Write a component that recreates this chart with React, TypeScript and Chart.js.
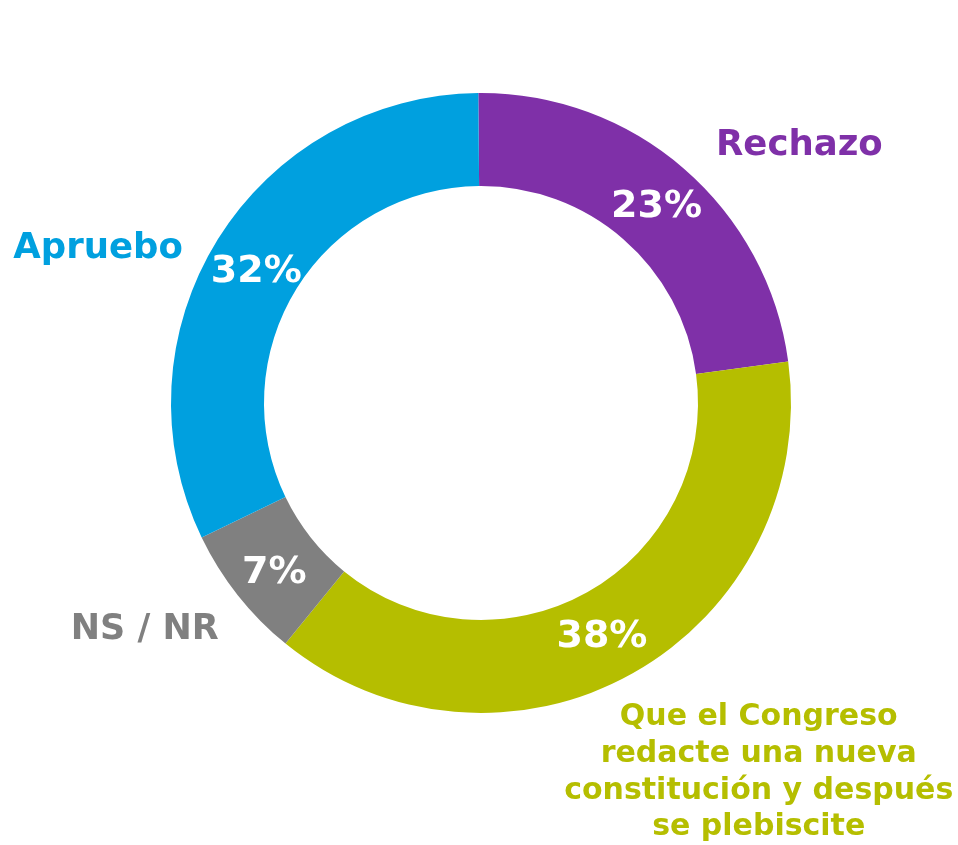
import React, { useEffect, useRef } from "react";
import { Chart, registerables } from "chart.js";

Chart.register(...registerables);

const categories = [
  "Rechazo",
  "Que el Congreso redacte una nueva constitución y después se plebiscite",
  "NS / NR",
  "Apruebo",
];
const values = [23, 38, 7, 32];
const colors = ["#7F30A8", "#B5BE00", "#808080", "#00A0DF"];
const labelLines = [
  ["Rechazo"],
  ["Que el Congreso", "redacte una nueva", "constitución y después", "se plebiscite"],
  ["NS / NR"],
  ["Apruebo"],
];

const FONT = "'DejaVu Sans', sans-serif";

const labelPlugin = {
  id: "labelPlugin",
  afterDatasetsDraw(chart: any) {
    const ctx = chart.ctx;
    const meta = chart.getDatasetMeta(0);
    const total = values.reduce((a, b) => a + b, 0);
    const outside = [
      { dx: 32, dy: -14, align: "left", size: 35.5 },
      { dx: 126, dy: 52, align: "center", size: 30 },
      { dx: -19, dy: 44, align: "right", size: 35 },
      { dx: -35, dy: 19, align: "right", size: 35.5 },
    ];
    const pctDx = [3, -8, 0, -1];
    const pctDy = [13, 14, 17, 18];
    ctx.save();
    meta.data.forEach((arc: any, i: number) => {
      const p = arc.getProps(["x", "y", "startAngle", "endAngle", "innerRadius", "outerRadius"], true);
      const mid = (p.startAngle + p.endAngle) / 2;
      const rMid = (p.innerRadius + p.outerRadius) / 2;
      const cx = p.x + Math.cos(mid) * rMid;
      const cy = p.y + Math.sin(mid) * rMid;
      ctx.fillStyle = "#ffffff";
      ctx.font = `bold 38px ${FONT}`;
      ctx.textAlign = "center";
      ctx.textBaseline = "alphabetic";
      ctx.fillText(Math.round((values[i] / total) * 100) + "%", cx + pctDx[i], cy + pctDy[i]);

      const ox = p.x + Math.cos(mid) * p.outerRadius;
      const oy = p.y + Math.sin(mid) * p.outerRadius;
      const o = outside[i];
      ctx.fillStyle = colors[i];
      ctx.font = `bold ${o.size}px ${FONT}`;
      ctx.textAlign = o.align;
      labelLines[i].forEach((line, k) => {
        ctx.fillText(line, ox + o.dx, oy + o.dy + k * 36.7);
      });
    });
    ctx.restore();
  },
};

export default function App() {
  const ref = useRef<HTMLCanvasElement>(null);
  useEffect(() => {
    if (!ref.current) return;
    const chart = new Chart(ref.current, {
      type: "doughnut",
      data: {
        labels: categories,
        datasets: [
          {
            data: values,
            backgroundColor: colors,
            borderWidth: 0,
          },
        ],
      },
      options: {
        animation: false,
        responsive: false,
        cutout: "70%",
        rotation: -0.5,
        layout: { padding: { left: 171, right: 167, top: 93, bottom: 132 } },
        plugins: {
          legend: { display: false },
          tooltip: { enabled: false },
        },
      },
      plugins: [labelPlugin],
    });
    return () => chart.destroy();
  }, []);
  return (
    <div style={{ position: "fixed", left: 0, top: 0, width: 958, height: 845, background: "#fff" }}>
      <canvas ref={ref} width={958} height={845} />
    </div>
  );
}
